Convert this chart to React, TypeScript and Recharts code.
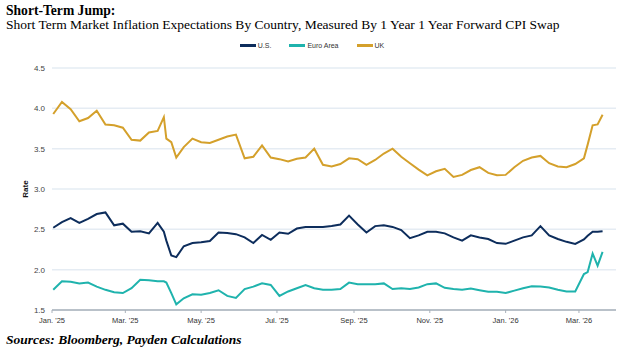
import { CartesianGrid, Line, LineChart, XAxis, YAxis } from "recharts";

const dates = [
  "2025-01-02", "2025-01-09", "2025-01-16", "2025-01-23", "2025-01-30", "2025-02-06", "2025-02-13",
  "2025-02-20", "2025-02-27", "2025-03-06", "2025-03-13", "2025-03-20", "2025-03-27", "2025-04-01",
  "2025-04-03", "2025-04-07", "2025-04-11", "2025-04-17", "2025-04-24", "2025-05-01", "2025-05-08",
  "2025-05-15", "2025-05-22", "2025-05-29", "2025-06-05", "2025-06-12", "2025-06-19", "2025-06-26",
  "2025-07-03", "2025-07-10", "2025-07-17", "2025-07-24", "2025-07-31", "2025-08-07", "2025-08-14",
  "2025-08-21", "2025-08-28", "2025-09-04", "2025-09-11", "2025-09-18", "2025-09-25", "2025-10-02",
  "2025-10-09", "2025-10-16", "2025-10-23", "2025-10-30", "2025-11-06", "2025-11-13", "2025-11-20",
  "2025-11-27", "2025-12-04", "2025-12-11", "2025-12-18", "2025-12-25", "2026-01-01", "2026-01-08",
  "2026-01-15", "2026-01-22", "2026-01-29", "2026-02-05", "2026-02-12", "2026-02-19", "2026-02-26",
  "2026-03-05", "2026-03-08", "2026-03-12", "2026-03-16", "2026-03-20",
];

const usRate = [
  2.52, 2.59, 2.64, 2.58, 2.63, 2.69, 2.71, 2.55, 2.57, 2.47, 2.475, 2.45, 2.58, 2.47,
  2.36, 2.175, 2.155, 2.29, 2.33, 2.34, 2.355, 2.46, 2.455, 2.44, 2.4, 2.33, 2.43, 2.37,
  2.46, 2.445, 2.51, 2.53, 2.53, 2.53, 2.54, 2.56, 2.67, 2.56, 2.46, 2.54, 2.55, 2.53,
  2.49, 2.39, 2.425, 2.47, 2.47, 2.45, 2.4, 2.36, 2.425, 2.4, 2.38, 2.33, 2.32, 2.36,
  2.4, 2.425, 2.54, 2.425, 2.38, 2.345, 2.32, 2.375, 2.42, 2.47, 2.47, 2.475,
];

const euroRate = [
  1.75, 1.855, 1.85, 1.83, 1.84, 1.79, 1.75, 1.72, 1.71, 1.77, 1.875, 1.87, 1.855, 1.855,
  1.84, 1.71, 1.57, 1.645, 1.695, 1.69, 1.71, 1.745, 1.675, 1.65, 1.76, 1.79, 1.83, 1.81,
  1.675, 1.73, 1.77, 1.81, 1.77, 1.75, 1.75, 1.76, 1.84, 1.82, 1.82, 1.82, 1.83, 1.76,
  1.77, 1.76, 1.78, 1.82, 1.83, 1.775, 1.76, 1.75, 1.765, 1.745, 1.725, 1.725, 1.71, 1.74,
  1.77, 1.795, 1.79, 1.78, 1.75, 1.73, 1.73, 1.945, 1.97, 2.2, 2.05, 2.22,
];

const ukRate = [
  3.93, 4.08, 3.99, 3.84, 3.88, 3.97, 3.8, 3.79, 3.76, 3.61, 3.6, 3.7, 3.72, 3.89,
  3.625, 3.58, 3.39, 3.52, 3.625, 3.58, 3.57, 3.61, 3.65, 3.675, 3.38, 3.4, 3.54, 3.39,
  3.37, 3.34, 3.375, 3.39, 3.5, 3.3, 3.28, 3.31, 3.38, 3.37, 3.3, 3.36, 3.44, 3.5,
  3.4, 3.32, 3.24, 3.17, 3.22, 3.25, 3.15, 3.175, 3.235, 3.27, 3.2, 3.17, 3.175, 3.27,
  3.35, 3.39, 3.41, 3.32, 3.28, 3.27, 3.31, 3.38, 3.55, 3.79, 3.8, 3.92,
];

const tickDates = [
  "2025-01-01", "2025-03-01", "2025-05-01", "2025-07-01",
  "2025-09-01", "2025-11-01", "2026-01-01", "2026-03-01",
];
const tickLabels = ["Jan. '25", "Mar. '25", "May. '25", "Jul. '25", "Sep. '25", "Nov. '25", "Jan. '26", "Mar. '26"];
const rateTicks = [1.5, 2.0, 2.5, 3.0, 3.5, 4.0, 4.5];

const series = [
  { key: "us", name: "U.S.", color: "#0d2d5c" },
  { key: "euro", name: "Euro Area", color: "#1fb3ad" },
  { key: "uk", name: "UK", color: "#d4a02b" },
];

const data = dates.map((d, i) => ({
  t: Date.parse(d),
  us: usRate[i],
  euro: euroRate[i],
  uk: ukRate[i],
}));

const tickTimes = tickDates.map((d) => Date.parse(d));
const DAY = 86400000;
const xDomain = [Date.parse("2025-01-01"), Date.parse("2026-03-30") + 0.8 * DAY];

const serif = '"Liberation Serif", "Times New Roman", serif';
const sans = '"Liberation Sans", Arial, sans-serif';

export default function App() {
  return (
    <div style={{ position: "relative", width: 624, height: 356, background: "#fff", overflow: "hidden" }}>
      <style>{`body{margin:0}`}</style>
      <div style={{ position: "absolute", left: 6, top: 3, fontFamily: serif, fontSize: 13.6, fontWeight: 700, color: "#000" }}>
        Short-Term Jump:
      </div>
      <div style={{ position: "absolute", left: 6, top: 17, fontFamily: serif, fontSize: 13.5, color: "#000", whiteSpace: "nowrap" }}>
        Short Term Market Inflation Expectations By Country, Measured By 1 Year 1 Year Forward CPI Swap
      </div>

      <div style={{ position: "absolute", left: 0, width: 624, top: 42, display: "flex", justifyContent: "center", gap: 18, fontFamily: sans, fontSize: 7, color: "#333" }}>
        {series.map((s) => (
          <div key={s.key} style={{ display: "flex", alignItems: "center", gap: 2 }}>
            <span style={{ display: "inline-block", width: 16, height: 2.5, background: s.color }} />
            <span>{s.name}</span>
          </div>
        ))}
      </div>

      <div style={{ position: "absolute", left: 25, top: 189, transform: "translate(-50%,-50%) rotate(-90deg)", fontFamily: sans, fontSize: 8, fontWeight: 700, color: "#111" }}>
        Rate
      </div>

      <div style={{ position: "absolute", left: 0, top: 0 }}>
        <LineChart width={624} height={356} data={data} margin={{ top: 68, right: 8, bottom: 26, left: 22 }}>
          <CartesianGrid vertical={false} stroke="#e5ecf3" strokeWidth={1.5} />
          <XAxis
            type="number"
            dataKey="t"
            domain={xDomain}
            ticks={tickTimes}
            tickFormatter={(v) => tickLabels[tickTimes.indexOf(v)] ?? ""}
            height={20}
            axisLine={{ stroke: "#a9b1ba", strokeWidth: 1.5 }}
            tickLine={{ stroke: "#a9b1ba" }}
            tickSize={3}
            tickMargin={5}
            tick={{ fontSize: 7.5, fill: "#333", fontFamily: sans }}
            allowDataOverflow
          />
          <YAxis
            domain={[1.5, 4.5]}
            ticks={rateTicks}
            tickFormatter={(v) => v.toFixed(1)}
            width={30}
            axisLine={false}
            tickLine={false}
            tickSize={0}
            tickMargin={7}
            tick={{ fontSize: 8, fill: "#444", fontFamily: sans }}
          />
          {series.map((s) => (
            <Line
              key={s.key}
              type="linear"
              dataKey={s.key}
              stroke={s.color}
              strokeWidth={2}
              dot={false}
              isAnimationActive={false}
            />
          ))}
        </LineChart>
      </div>

      <div style={{ position: "absolute", left: 6, top: 332, fontFamily: serif, fontSize: 13.5, fontWeight: 700, fontStyle: "italic", color: "#000" }}>
        Sources: Bloomberg, Payden Calculations
      </div>
    </div>
  );
}
